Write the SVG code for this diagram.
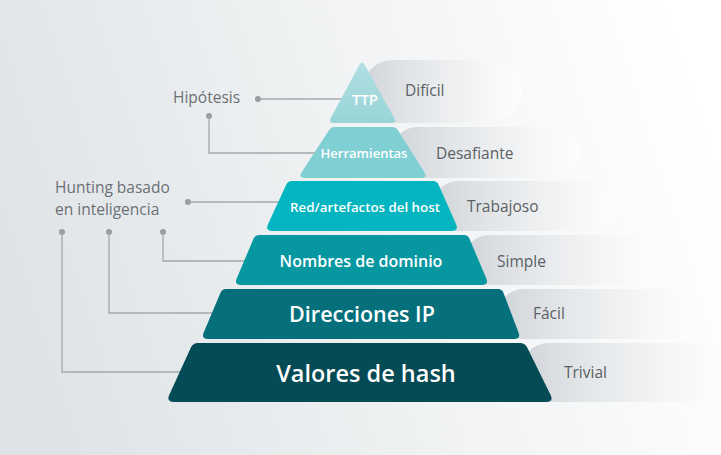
<svg xmlns="http://www.w3.org/2000/svg" width="721" height="455" viewBox="0 0 721 455">
<defs>
<linearGradient id="bg" x1="0" y1="0.6" x2="1" y2="0.4">
<stop offset="0" stop-color="#dfe3e6"/>
<stop offset="0.55" stop-color="#f1f3f4"/>
<stop offset="1" stop-color="#ffffff"/>
</linearGradient>
<linearGradient id="band" x1="0" y1="0" x2="1" y2="0">
<stop offset="0" stop-color="#d0d4d8"/>
<stop offset="0.3" stop-color="#e2e5e8"/>
<stop offset="0.75" stop-color="#f5f6f7"/>
<stop offset="1" stop-color="#fdfdfd"/>
</linearGradient>
<linearGradient id="ttpg" x1="0" y1="0" x2="0" y2="1">
<stop offset="0" stop-color="#b0dfe2"/>
<stop offset="1" stop-color="#98d5d8"/>
</linearGradient>
<style>
.band{fill:url(#band)}
.lbl{font-family:"Open Sans","Noto Sans",sans-serif;fill:#ffffff;text-anchor:middle;font-weight:600}
.side{font-family:"Open Sans","Noto Sans",sans-serif;fill:#5a5f64;font-size:15.5px}
.left{font-family:"Open Sans","Noto Sans",sans-serif;fill:#6b7075;font-size:15.5px}
.con{fill:none;stroke:#a3a8ac;stroke-width:1.3}
.dot{fill:#979ca1}
</style>
</defs>
<rect width="721" height="455" fill="url(#bg)"/>

<g id="bands">
<rect class="band" x="362" y="60" width="160" height="63" rx="31"/>
<rect class="band" x="392" y="127" width="188" height="51" rx="25"/>
<rect class="band" x="433" y="181" width="184" height="50" rx="25"/>
<rect class="band" x="464" y="235" width="190" height="50" rx="25"/>
<rect class="band" x="498" y="289" width="195" height="50" rx="25"/>
<rect class="band" x="520" y="343" width="201" height="59" rx="29"/>
</g>

<g id="connectors">
<circle class="dot" cx="258" cy="99" r="3"/>
<path class="con" d="M258,99 H350"/>
<circle class="dot" cx="209" cy="116" r="3"/>
<path class="con" d="M209,116 V153 H315"/>
<circle class="dot" cx="188" cy="202" r="3"/>
<path class="con" d="M188,202 H290"/>
<circle class="dot" cx="163" cy="232" r="3"/>
<path class="con" d="M163,232 V261 H250"/>
<circle class="dot" cx="109" cy="232" r="3"/>
<path class="con" d="M109,232 V313 H215"/>
<circle class="dot" cx="62" cy="232" r="3"/>
<path class="con" d="M62,232 V372 H185"/>
</g>

<g id="ttp">
<path fill="url(#ttpg)" d="M359.2,65.3 Q362,60 364.9,65.2 L394.1,117.8 Q397,123 391,123 L334,123 Q328,123 330.9,117.7 Z"/>
<text class="lbl" x="365" y="105" font-size="15">TTP</text>
</g>
<g id="herramientas">
<path fill="#80cfd2" d="M335,127 L392,127 Q396,127 398.1,130.4 L424.3,172.1 Q428,178 421,178 L305,178 Q298,178 301.8,172.1 L328.8,130.4 Q331,127 335,127 Z"/>
<text class="lbl" x="364" y="158" font-size="13">Herramientas</text>
</g>
<g id="red">
<path fill="#02b5c0" d="M292,181 L433,181 Q437,181 438.6,184.7 L456.2,224.6 Q459,231 452,231 L272,231 Q265,231 267.9,224.6 L286.3,184.6 Q288,181 292,181 Z"/>
<text class="lbl" x="365" y="212" font-size="13.3">Red/artefactos del host</text>
</g>
<g id="nombres">
<path fill="#0797a1" d="M259,235 L464,235 Q468,235 469.5,238.7 L486.3,278.5 Q489,285 482,285 L241,285 Q234,285 236.7,278.5 L253.5,238.7 Q255,235 259,235 Z"/>
<text class="lbl" x="361" y="267" font-size="16">Nombres de dominio</text>
</g>
<g id="direcciones">
<path fill="#05707b" d="M226,289 L498,289 Q502,289 503.4,292.7 L518.5,332.5 Q521,339 514,339 L208,339 Q201,339 203.7,332.5 L220.5,292.7 Q222,289 226,289 Z"/>
<text class="lbl" x="362" y="322" font-size="21.5">Direcciones IP</text>
</g>
<g id="valores">
<path fill="#054b55" d="M198,343 L520,343 Q525,343 527.2,347.5 L550.5,394.8 Q554,402 546,402 L174,402 Q166,402 169.3,394.7 L190.9,347.5 Q193,343 198,343 Z"/>
<text class="lbl" x="366" y="382" font-size="23.5">Valores de hash</text>
</g>

<g id="side-labels">
<text class="side" x="405" y="96">Difícil</text>
<text class="side" x="436" y="159">Desafiante</text>
<text class="side" x="467" y="212">Trabajoso</text>
<text class="side" x="497" y="267">Simple</text>
<text class="side" x="533" y="319">Fácil</text>
<text class="side" x="564" y="378">Trivial</text>
</g>
<g id="left-labels">
<text class="left" x="173" y="103">Hipótesis</text>
<text class="left" x="55" y="193">Hunting basado</text>
<text class="left" x="55" y="215">en inteligencia</text>
</g>
</svg>
